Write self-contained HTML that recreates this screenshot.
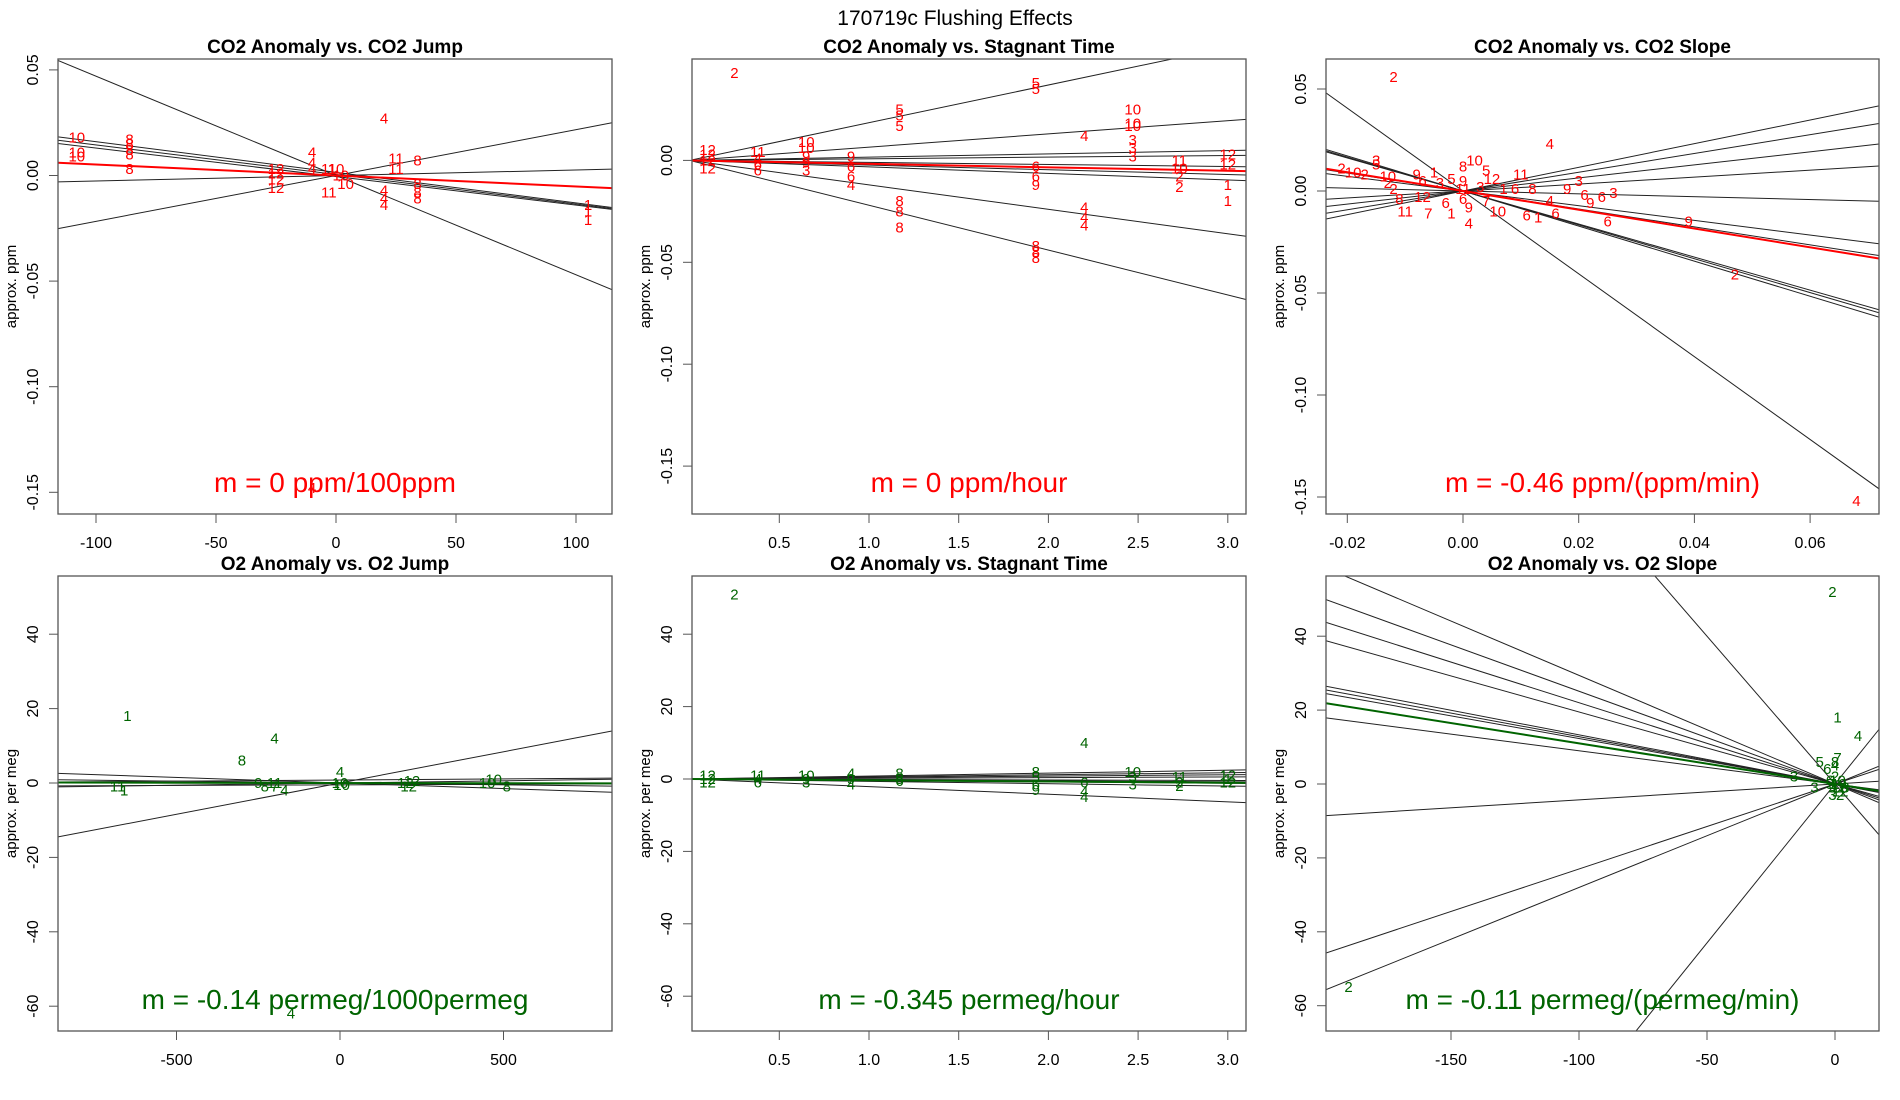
<!DOCTYPE html>
<html><head><meta charset="utf-8"><style>
html,body{margin:0;padding:0;background:#fff;overflow:hidden;width:1900px;height:1100px;}
svg{display:block;font-family:"Liberation Sans",sans-serif;}
</style></head><body>
<svg id="fig" width="1900" height="1100" viewBox="0 0 1900 1100">
<text x="955" y="25" font-size="21" text-anchor="middle">170719c   Flushing Effects</text>
</svg>
<script>
// ---------- Panel 1: CO2 Anomaly vs CO2 Jump ----------
const p1Slopes = [-0.00047, 0.000217, -0.000145, -0.00014, -0.000135, 0.000026];
const p1Intercepts = [0, 0, 0.0015, 0.0005, -0.0005, 0];
const p1FitSlope = -0.000052;
const p1PtX = [-108,-108,-108,-86,-86,-86,-86,-86,-25,-25,-25,-25,-10,-10,-10,-3,-3,0,2,4,20,20,20,20,25,25,34,34,34,34,105,105,105,-10];
const p1PtY = [0.018,0.011,0.009,0.017,0.015,0.012,0.010,0.003,0.003,0.001,-0.002,-0.006,0.011,0.006,0.003,0.003,-0.008,0.003,0,-0.004,0.027,-0.007,-0.011,-0.014,0.008,0.003,0.007,-0.004,-0.008,-0.011,-0.014,-0.017,-0.021,-0.148];
const p1PtLab = ["10","10","10","8","8","8","8","8","12","12","12","12","4","4","4","11","11","10","10","10","4","4","4","4","11","11","8","8","8","8","1","1","1","4"];
const p1XTicks = [-100,-50,0,50,100];
const p1YTicks = [0.05,0,-0.05,-0.10,-0.15];
const p1YTickLab = ["0.05","0.00","-0.05","-0.10","-0.15"];

// ---------- Panel 2: CO2 Anomaly vs Stagnant Time ----------
const p2Slopes = [0.0185, 0.0065, 0.0016, 0.0008, -0.001, -0.0023, -0.0032, -0.012, -0.022];
const p2FitSlope = -0.0017;
const p2PtX = [0.1,0.1,0.1,0.1,0.38,0.38,0.38,0.38,0.65,0.65,0.65,0.65,0.65,0.9,0.9,0.9,0.9,1.17,1.17,1.17,1.17,1.17,1.17,1.93,1.93,1.93,1.93,1.93,1.93,1.93,1.93,2.2,2.2,2.2,2.2,2.47,2.47,2.47,2.47,2.47,2.47,2.73,2.73,2.73,2.73,3.0,3.0,3.0,3.0,0.25];
const p2PtY = [0.005,0.003,0,-0.004,0.004,0.001,-0.002,-0.005,0.009,0.006,0.002,-0.001,-0.005,0.002,-0.003,-0.008,-0.012,0.025,0.022,0.017,-0.02,-0.025,-0.033,0.038,0.035,-0.003,-0.008,-0.012,-0.042,-0.045,-0.048,0.012,-0.023,-0.028,-0.032,0.025,0.018,0.017,0.01,0.006,0.002,0,-0.004,-0.008,-0.013,0.003,-0.002,-0.012,-0.02,0.043];
const p2PtLab = ["12","12","12","12","11","4","6","6","10","10","9","9","3","9","6","6","4","5","5","5","8","8","8","5","5","6","6","9","8","8","8","4","4","4","4","10","10","10","3","3","3","11","10","2","2","12","12","1","1","2"];
const p2XTicks = [0.5,1.0,1.5,2.0,2.5,3.0];
const p2XTickLab = ["0.5","1.0","1.5","2.0","2.5","3.0"];
const p2YTicks = [0,-0.05,-0.10,-0.15];
const p2YTickLab = ["0.00","-0.05","-0.10","-0.15"];

// ---------- Panel 3: CO2 Anomaly vs CO2 Slope ----------
const p3Slopes = [0.58,0.46,0.32,0.17,-0.07,-0.36,-0.44,-0.81,-0.83,-0.86,-2.03];
const p3FitSlope = -0.46;
const p3PtX = [-0.021,-0.019,-0.017,-0.015,-0.015,-0.013,-0.013,-0.012,-0.011,-0.010,-0.008,-0.007,-0.007,-0.006,-0.005,-0.004,-0.003,-0.002,-0.002,0,0,0,0,0.001,0.001,0.002,0.003,0.004,0.004,0.005,0.006,0.007,0.009,0.010,0.011,0.012,0.013,0.015,0.016,0.018,0.020,0.021,0.022,0.024,0.026,0.025,0.039,0.047,0.015,-0.012,0.068];
const p3PtY = [0.011,0.009,0.008,0.015,0.013,0.007,0.004,0.001,-0.004,-0.010,0.008,0.005,-0.003,-0.011,0.009,0.004,-0.006,0.006,-0.011,0.012,0.005,0.001,-0.004,-0.008,-0.016,0.015,0.002,0.010,-0.005,0.006,-0.010,0.001,0.001,0.008,-0.012,0.001,-0.013,-0.005,-0.011,0.001,0.005,-0.002,-0.006,-0.003,-0.001,-0.015,-0.015,-0.041,0.023,0.056,-0.152];
const p3PtLab = ["2","10","2","3","5","10","2","2","8","11","9","6","12","7","1","3","6","5","1","8","9","11","6","9","4","10","3","5","7","12","10","1","6","11","6","8","1","4","6","9","3","6","9","6","3","6","9","2","4","2","4"];
const p3XTicks = [-0.02,0,0.02,0.04,0.06];
const p3XTickLab = ["-0.02","0.00","0.02","0.04","0.06"];
const p3YTicks = [0.05,0,-0.05,-0.10,-0.15];
const p3YTickLab = ["0.05","0.00","-0.05","-0.10","-0.15"];

// ---------- Panel 4: O2 Anomaly vs O2 Jump ----------
const p4Slopes = [0.0168,-0.003,0.0006,0.0012,-0.001,0.0003];
const p4Intercepts = [0,0,0.8,0,0,-0.5];
const p4FitSlope = -0.00014;
const p4PtX = [-650,-680,-660,-300,-200,-250,-200,-170,-200,-230,0,0,5,200,210,220,450,470,510,-150];
const p4PtY = [18,-1,-2,6,12,0,0,-2,-1,-1,3,0,-0.5,0,-1,0.5,0,1,-1,-62];
const p4PtLab = ["1","11","1","8","4","9","11","4","7","8","4","10","10","12","12","12","10","10","8","4"];
const p4XTicks = [-500,0,500];
const p4YTicks = [40,20,0,-20,-40,-60];

// ---------- Panel 5: O2 Anomaly vs Stagnant Time ----------
const p5Slopes = [0.81,0.58,0.39,0.19,-0.13,-0.26,-0.39,-0.65,-2.1];
const p5FitSlope = -0.345;
const p5PtX = [0.1,0.1,0.1,0.38,0.38,0.38,0.65,0.65,0.65,0.9,0.9,0.9,1.17,1.17,1.17,1.93,1.93,1.93,1.93,2.2,2.2,2.2,2.2,2.47,2.47,2.47,2.73,2.73,2.73,3.0,3.0,3.0,0.25];
const p5PtY = [1,0,-1,1,0,-1,1,0,-1,1.5,0,-1.5,1.5,0,-0.5,2,0.5,-1.5,-3,10,-1,-3.5,-5,2,0.5,-1.5,0.5,-1,-2,1,0,-1,51];
const p5PtLab = ["12","12","12","11","4","6","10","9","3","4","9","4","8","5","6","8","5","6","9","4","6","4","4","10","3","3","11","2","2","12","1","12","2"];
const p5XTicks = [0.5,1.0,1.5,2.0,2.5,3.0];
const p5XTickLab = ["0.5","1.0","1.5","2.0","2.5","3.0"];
const p5YTicks = [40,20,0,-20,-40,-60];

// ---------- Panel 6: O2 Anomaly vs O2 Slope ----------
const p6Slopes = [-0.294,-0.251,-0.22,-0.195,-0.133,-0.128,-0.123,-0.09,0.043,0.23,0.28,-0.8,0.86];
const p6FitSlope = -0.11;
const p6PtX = [-1,1,9,-6,0,1,0,-3,-16,-8,-190,-69,-2,-1,0,1,2,3,-1,0,1,2,4,-2];
const p6PtY = [52,18,13,6,6,7,5,4,2,-1,-55,-60,1,-1,0,1,-2,0,-3,2,-1,-3,-1,0];
const p6PtLab = ["2","1","4","5","8","7","4","6","3","3","2","4","6","9","1","10","12","9","3","2","11","2","8","5"];
const p6XTicks = [-150,-100,-50,0];
const p6YTicks = [40,20,0,-20,-40,-60];

const NS = "http://www.w3.org/2000/svg";
const fig = document.getElementById("fig");
function mk(tag, attrs, parent){
  const e = document.createElementNS(NS, tag);
  for (const k in attrs) e.setAttribute(k, attrs[k]);
  (parent||fig).appendChild(e);
  return e;
}
let clipId = 0;
function panel(cfg){
  const g = mk("g", {});
  
  
  const L = cfg.box[0], T = cfg.box[1], R = cfg.box[2], B = cfg.box[3];
  const sx = v => cfg.x0 + v * cfg.kx;
  const sy = v => cfg.y0 - v * cfg.ky;
  const xmin = (L - cfg.x0) / cfg.kx, xmax = (R - cfg.x0) / cfg.kx;
  clipId++;
  const cp = mk("clipPath", {id: "cp" + clipId}, g);
  mk("rect", {x: L, y: T, width: R - L, height: B - T}, cp);
  const lg = mk("g", {"clip-path": "url(#cp" + clipId + ")"}, g);
  for (let i = 0; i < cfg.slopes.length; i++) {
    const b = cfg.intercepts ? cfg.intercepts[i] : 0;
    const ln = mk("line", {x1: sx(xmin), y1: sy(b + cfg.slopes[i]*xmin), x2: sx(xmax), y2: sy(b + cfg.slopes[i]*xmax), stroke: "#222", "stroke-width": 1}, lg);
    
    
  }
  const fl = mk("line", {x1: sx(xmin), y1: sy(cfg.fit*xmin), x2: sx(xmax), y2: sy(cfg.fit*xmax), stroke: cfg.color, "stroke-width": 2}, lg);
  
  
  for (let i = 0; i < cfg.px.length; i++) {
    const t = mk("text", {x: sx(cfg.px[i]), y: sy(cfg.py[i]) + 5, "font-size": 15, fill: cfg.color, "text-anchor": "middle"}, lg);
    t.textContent = cfg.plab[i];
    
    
  }
  const fr = mk("rect", {x: L, y: T, width: R - L, height: B - T, fill: "none", stroke: "#555", "stroke-width": 1.3}, g);
  
  
  for (let i = 0; i < cfg.xt.length; i++) {
    const x = sx(cfg.xt[i]);
    mk("line", {x1: x, y1: B, x2: x, y2: B + 9, stroke: "#555"}, g);
    const t = mk("text", {x: x, y: B + 34, "font-size": 16, "text-anchor": "middle"}, g);
    t.textContent = cfg.xtl ? cfg.xtl[i] : String(cfg.xt[i]);
    
    
  }
  for (let i = 0; i < cfg.yt.length; i++) {
    const y = sy(cfg.yt[i]);
    mk("line", {x1: L, y1: y, x2: L - 9, y2: y, stroke: "#555"}, g);
    const t = mk("text", {x: L - 20, y: y, "font-size": 16, "text-anchor": "middle", transform: "rotate(-90 " + (L - 20) + " " + y + ")"}, g);
    t.textContent = cfg.ytl ? cfg.ytl[i] : String(cfg.yt[i]);
    
    
  }
  const yc = (T + B) / 2;
  const ya = mk("text", {x: L - 42, y: yc, "font-size": 15, "text-anchor": "middle", transform: "rotate(-90 " + (L - 42) + " " + yc + ")"}, g);
  ya.textContent = cfg.ylab;
  
  
  const ti = mk("text", {x: (L + R) / 2, y: T - 6, "font-size": 19, "font-weight": "bold", "text-anchor": "middle"}, g);
  ti.textContent = cfg.title;
  
  
  const an = mk("text", {x: (L + R) / 2, y: B - 22, "font-size": 28, fill: cfg.color, "text-anchor": "middle"}, g);
  an.textContent = cfg.ann;
  
  
}
const RED = "#ff0000", GRN = "#006400";
panel({name:"panel-co2-jump", box:[58,59,612,514], x0:336, kx:2.4, y0:175.5, ky:2112,
  slopes:p1Slopes, intercepts:p1Intercepts, fit:p1FitSlope, px:p1PtX, py:p1PtY, plab:p1PtLab,
  xt:p1XTicks, yt:p1YTicks, ytl:p1YTickLab, color:RED, ylab:"approx. ppm",
  title:"CO2 Anomaly vs. CO2 Jump", ann:"m = 0 ppm/100ppm"});
panel({name:"panel-co2-stagnant", box:[692,59,1246,514], x0:689.6, kx:179.4, y0:160.4, ky:2038,
  slopes:p2Slopes, fit:p2FitSlope, px:p2PtX, py:p2PtY, plab:p2PtLab,
  xt:p2XTicks, xtl:p2XTickLab, yt:p2YTicks, ytl:p2YTickLab, color:RED, ylab:"approx. ppm",
  title:"CO2 Anomaly vs. Stagnant Time", ann:"m = 0 ppm/hour"});
panel({name:"panel-co2-slope", box:[1326,59,1879,514], x0:1463, kx:5785, y0:191, ky:2040,
  slopes:p3Slopes, fit:p3FitSlope, px:p3PtX, py:p3PtY, plab:p3PtLab,
  xt:p3XTicks, xtl:p3XTickLab, yt:p3YTicks, ytl:p3YTickLab, color:RED, ylab:"approx. ppm",
  title:"CO2 Anomaly vs. CO2 Slope", ann:"m = -0.46 ppm/(ppm/min)"});
panel({name:"panel-o2-jump", box:[58,576,612,1031], x0:340, kx:0.327, y0:783, ky:3.72,
  slopes:p4Slopes, intercepts:p4Intercepts, fit:p4FitSlope, px:p4PtX, py:p4PtY, plab:p4PtLab,
  xt:p4XTicks, yt:p4YTicks, color:GRN, ylab:"approx. per meg",
  title:"O2 Anomaly vs. O2 Jump", ann:"m = -0.14 permeg/1000permeg"});
panel({name:"panel-o2-stagnant", box:[692,576,1246,1031], x0:689.6, kx:179.4, y0:779, ky:3.62,
  slopes:p5Slopes, fit:p5FitSlope, px:p5PtX, py:p5PtY, plab:p5PtLab,
  xt:p5XTicks, xtl:p5XTickLab, yt:p5YTicks, color:GRN, ylab:"approx. per meg",
  title:"O2 Anomaly vs. Stagnant Time", ann:"m = -0.345 permeg/hour"});
panel({name:"panel-o2-slope", box:[1326,576,1879,1031], x0:1835, kx:2.56, y0:784, ky:3.695,
  slopes:p6Slopes, fit:p6FitSlope, px:p6PtX, py:p6PtY, plab:p6PtLab,
  xt:p6XTicks, yt:p6YTicks, color:GRN, ylab:"approx. per meg",
  title:"O2 Anomaly vs. O2 Slope", ann:"m = -0.11 permeg/(permeg/min)"});
</script>
</body></html>
